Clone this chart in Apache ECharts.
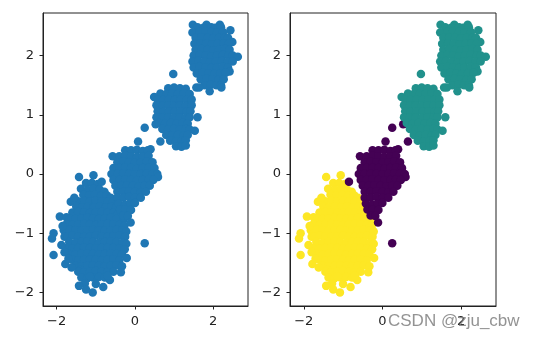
<!DOCTYPE html>
<html>
<head>
<meta charset="utf-8">
<script src="https://cdn.jsdelivr.net/npm/echarts@6/dist/echarts.min.js"></script>
<style>
html,body{margin:0;padding:0;background:#fff;}
#c{width:537px;height:343px;}
</style>
</head>
<body>
<div id="c"></div>
<script>
// Cluster labelled yellow (around -1,-1)
var clusterYellow = [
[-1.43,-0.05],[-1.06,-0.02],
[-1.25,-0.15],[-1.1,-0.15],[-0.95,-0.17],
[-1.38,-0.25],[-1.2,-0.27],[-1.05,-0.25],[-0.9,-0.26],[-0.78,-0.3],
[-1.32,-0.35],[-1.17,-0.36],[-1.02,-0.35],[-0.87,-0.37],[-0.72,-0.36],[-0.62,-0.4],
[-1.64,-0.47],[-1.45,-0.46],[-1.3,-0.45],[-1.15,-0.46],[-1.0,-0.45],[-0.85,-0.46],[-0.7,-0.47],[-0.56,-0.47],
[-1.5,-0.55],[-1.35,-0.56],[-1.2,-0.55],[-1.05,-0.56],[-0.9,-0.55],[-0.75,-0.56],[-0.6,-0.55],[-0.48,-0.57],
[-1.6,-0.65],[-1.45,-0.64],[-1.3,-0.65],[-1.15,-0.66],[-1.0,-0.65],[-0.85,-0.64],[-0.7,-0.65],[-0.55,-0.66],[-0.44,-0.68],
[-1.92,-0.72],[-1.75,-0.73],
[-1.66,-0.75],[-1.52,-0.76],[-1.37,-0.75],[-1.22,-0.74],[-1.07,-0.75],[-0.92,-0.76],[-0.77,-0.75],[-0.62,-0.74],[-0.47,-0.76],[-0.3,-0.78],
[-1.75,-0.85],[-1.6,-0.86],[-1.45,-0.85],[-1.3,-0.84],[-1.15,-0.85],[-1.0,-0.86],[-0.85,-0.85],[-0.7,-0.84],[-0.55,-0.85],[-0.4,-0.86],[-0.27,-0.88],
[-1.82,-0.95],[-1.68,-0.94],[-1.52,-0.95],[-1.37,-0.96],[-1.22,-0.95],[-1.07,-0.94],[-0.92,-0.95],[-0.77,-0.96],[-0.62,-0.95],[-0.47,-0.94],[-0.32,-0.95],[-0.22,-0.97],
[-2.08,-1.0],[-2.12,-1.09],[-1.80,-1.06],
[-1.72,-1.05],[-1.6,-1.04],[-1.45,-1.05],[-1.3,-1.06],[-1.15,-1.05],[-1.0,-1.04],[-0.85,-1.05],[-0.7,-1.06],[-0.55,-1.05],[-0.4,-1.04],[-0.25,-1.06],
[-1.68,-1.15],[-1.52,-1.16],[-1.37,-1.15],[-1.22,-1.14],[-1.07,-1.15],[-0.92,-1.16],[-0.77,-1.15],[-0.62,-1.14],[-0.47,-1.15],[-0.32,-1.16],[-0.22,-1.18],
[-1.75,-1.25],[-1.6,-1.26],[-1.45,-1.25],[-1.3,-1.24],[-1.15,-1.25],[-1.0,-1.26],[-0.85,-1.25],[-0.7,-1.24],[-0.55,-1.25],[-0.4,-1.26],[-0.26,-1.27],
[-2.08,-1.37],
[-1.68,-1.35],[-1.52,-1.36],[-1.37,-1.35],[-1.22,-1.34],[-1.07,-1.35],[-0.92,-1.36],[-0.77,-1.35],[-0.62,-1.34],[-0.47,-1.35],[-0.33,-1.36],
[-0.21,-1.42],
[-1.6,-1.45],[-1.45,-1.46],[-1.3,-1.45],[-1.15,-1.44],[-1.0,-1.45],[-0.85,-1.46],[-0.7,-1.45],[-0.55,-1.44],[-0.4,-1.46],
[-1.78,-1.52],
[-1.52,-1.55],[-1.37,-1.56],[-1.22,-1.55],[-1.07,-1.54],[-0.92,-1.55],[-0.77,-1.56],[-0.62,-1.55],[-0.47,-1.54],[-0.33,-1.56],
[-1.40,-1.62],
[-1.45,-1.65],[-1.3,-1.66],[-1.15,-1.65],[-1.0,-1.64],[-0.85,-1.65],[-0.7,-1.66],[-0.55,-1.65],[-0.36,-1.66],
[-1.37,-1.75],[-1.22,-1.76],[-1.07,-1.75],[-0.92,-1.74],[-0.77,-1.75],[-0.64,-1.79],
[-1.15,-1.73],
[-1.28,-1.85],[-1.0,-1.86],
[-1.43,-1.89],[-0.81,-1.91],[-1.08,-2.0],
[-1.85,-0.88],[-1.88,-1.2],[-1.8,-1.32],[-1.7,-1.43],[-1.62,-1.58],[-1.55,-0.4],[-1.25,-1.95],[-0.7,-1.72]
];
// Cluster labelled purple (around 0,0)
var clusterPurple = [
[0.08,0.55],[0.40,0.42],[0.25,0.78],[0.53,0.84],[0.65,0.55],
[-0.25,0.40],[-0.1,0.40],[0.05,0.41],[0.2,0.39],[0.33,0.40],
[-0.57,0.30],[-0.4,0.30],[-0.25,0.31],[-0.1,0.30],[0.05,0.29],[0.2,0.30],[0.35,0.31],
[-0.45,0.20],[-0.3,0.21],[-0.15,0.20],[0.0,0.19],[0.15,0.20],[0.3,0.21],[0.45,0.20],
[-0.55,0.10],[-0.4,0.10],[-0.25,0.11],[-0.1,0.10],[0.05,0.09],[0.2,0.10],[0.35,0.11],[0.5,0.10],
[-0.6,0.0],[-0.45,0.0],[-0.3,0.01],[-0.15,0.0],[0.0,-0.01],[0.15,0.0],[0.3,0.01],[0.45,0.0],[0.57,0.0],
[0.59,-0.05],
[-0.55,-0.10],[-0.4,-0.10],[-0.25,-0.09],[-0.1,-0.10],[0.05,-0.11],[0.2,-0.10],[0.35,-0.09],[0.47,-0.10],
[-0.85,-0.13],
[-0.5,-0.20],[-0.35,-0.20],[-0.2,-0.19],[-0.05,-0.20],[0.1,-0.21],[0.25,-0.20],[0.38,-0.20],
[-0.45,-0.30],[-0.3,-0.30],[-0.15,-0.29],[0.0,-0.30],[0.15,-0.31],[0.28,-0.30],
[-0.45,-0.40],[-0.3,-0.40],[-0.15,-0.39],[0.0,-0.40],[0.15,-0.40],
[-0.42,-0.50],[-0.25,-0.52],[-0.12,-0.50],[0.0,-0.49],
[-0.38,-0.60],[-0.25,-0.60],[-0.1,-0.61],
[-0.3,-0.70],[-0.18,-0.71],
[-0.11,-0.82],[0.25,-1.17]
];
// Cluster labelled teal (around 1,1 and 2,2)
var clusterTeal = [
[0.98,1.69],[1.57,1.46],
[0.85,1.45],[1.0,1.46],[1.15,1.45],[1.3,1.44],
[0.65,1.36],[0.8,1.35],[0.95,1.36],[1.1,1.35],[1.25,1.36],[1.4,1.35],
[0.49,1.30],
[0.58,1.26],[0.72,1.25],[0.87,1.26],[1.02,1.25],[1.17,1.26],[1.32,1.25],[1.45,1.26],
[0.55,1.16],[0.7,1.15],[0.85,1.16],[1.0,1.15],[1.15,1.16],[1.3,1.15],[1.45,1.16],
[0.58,1.06],[0.72,1.05],[0.87,1.06],[1.02,1.05],[1.17,1.06],[1.32,1.05],[1.42,1.06],
[0.55,0.96],[0.7,0.95],[0.85,0.96],[1.0,0.95],[1.15,0.96],[1.3,0.95],[1.4,0.96],[1.60,0.96],
[0.62,0.86],[0.77,0.85],[0.92,0.86],[1.07,0.85],[1.22,0.86],[1.35,0.85],
[0.7,0.76],[0.85,0.75],[1.0,0.76],[1.15,0.75],[1.3,0.76],[1.4,0.75],[1.53,0.73],
[0.8,0.66],[0.95,0.65],[1.1,0.66],[1.25,0.65],[1.35,0.66],
[0.9,0.56],[1.05,0.55],[1.2,0.56],[1.3,0.57],
[1.05,0.47],[1.19,0.46],[1.3,0.48],
[1.48,2.52],[1.83,2.52],[2.17,2.52],
[1.6,2.48],[1.75,2.47],[1.95,2.48],[2.05,2.47],[2.2,2.48],
[2.44,2.43],[1.47,2.39],
[1.65,2.40],[1.8,2.41],[1.95,2.40],[2.1,2.39],[2.25,2.40],
[1.55,2.30],[1.7,2.31],[1.85,2.30],[2.0,2.29],[2.15,2.30],[2.3,2.31],[2.38,2.30],
[2.49,2.23],
[1.52,2.20],[1.67,2.21],[1.82,2.20],[1.97,2.19],[2.12,2.20],[2.27,2.21],[2.4,2.20],
[1.55,2.10],[1.7,2.11],[1.85,2.10],[2.0,2.09],[2.15,2.10],[2.3,2.11],[2.42,2.10],
[1.5,2.00],[1.65,2.01],[1.8,2.00],[1.95,1.99],[2.1,2.00],[2.25,2.01],[2.4,2.00],[2.5,2.00],
[2.63,1.98],
[1.47,1.90],[1.62,1.91],[1.77,1.90],[1.92,1.89],[2.07,1.90],[2.22,1.91],[2.37,1.90],[2.5,1.90],
[1.5,1.80],[1.65,1.81],[1.8,1.80],[1.95,1.79],[2.1,1.80],[2.25,1.81],[2.38,1.80],
[2.42,1.73],
[1.58,1.70],[1.73,1.71],[1.88,1.70],[2.03,1.69],[2.18,1.70],[2.32,1.71],
[1.68,1.60],[1.83,1.61],[1.98,1.60],[2.13,1.59],[2.27,1.60],
[1.78,1.50],[1.93,1.51],[2.08,1.50],[2.2,1.50],
[1.64,1.46],[1.91,1.40],[2.21,1.46]
];
var xTicks = [-2, 0, 2];
var yTicks = [-2, -1, 0, 1, 2];
var xRange = [-2.35, 2.89];
var yRange = [-2.23, 2.72];

var allPoints = clusterYellow.concat(clusterPurple, clusterTeal);
var chart = echarts.init(document.getElementById('c'), null, {renderer: 'canvas'});
function fmt(v){ return String(v).replace('-', '\u2212'); }
function xAxis(i){
  return {type:'value', gridIndex:i, min:xRange[0], max:xRange[1], position:'bottom',
    splitLine:{show:false}, axisLine:{show:true, onZero:false, lineStyle:{color:'#222', width:1}},
    axisTick:{show:true, inside:false, length:3.5, customValues:xTicks, lineStyle:{color:'#222', width:1}},
    axisLabel:{show:true, customValues:xTicks, formatter:fmt, margin:9, color:'#222', fontSize:13, fontFamily:'DejaVu Sans'}};
}
function yAxis(i){
  return {type:'value', gridIndex:i, min:yRange[0], max:yRange[1], position:'left',
    splitLine:{show:false}, axisLine:{show:true, onZero:false, lineStyle:{color:'#222', width:1}},
    axisTick:{show:true, inside:false, length:3.5, customValues:yTicks, lineStyle:{color:'#222', width:1}},
    axisLabel:{show:true, customValues:yTicks, formatter:fmt, margin:9, color:'#222', fontSize:13, fontFamily:'DejaVu Sans'}};
}
var sym = 8.5;
chart.setOption({
  animation:false,
  backgroundColor:'#fff',
  grid:[
    {left:43, top:13, width:205, height:293, show:true, borderColor:'#222', borderWidth:1, backgroundColor:'transparent'},
    {left:290, top:13, width:206, height:293, show:true, borderColor:'#222', borderWidth:1, backgroundColor:'transparent'}
  ],
  xAxis:[xAxis(0), xAxis(1)],
  yAxis:[yAxis(0), yAxis(1)],
  series:[
    {type:'scatter', xAxisIndex:0, yAxisIndex:0, data:allPoints, symbolSize:sym, itemStyle:{color:'#1f77b4', opacity:1}},
    {type:'scatter', xAxisIndex:1, yAxisIndex:1, data:clusterYellow, symbolSize:sym, itemStyle:{color:'#fde725', opacity:1}},
    {type:'scatter', xAxisIndex:1, yAxisIndex:1, data:clusterPurple, symbolSize:sym, itemStyle:{color:'#440154', opacity:1}},
    {type:'scatter', xAxisIndex:1, yAxisIndex:1, data:clusterTeal, symbolSize:sym, itemStyle:{color:'#21918c', opacity:1}}
  ],
  graphic:[
    {type:'text', left:388, top:313, z:100, silent:true,
     style:{text:'CSDN @zju_cbw', fill:'rgba(128,128,128,0.85)', font:'17px "Liberation Sans", Arial, sans-serif'}}
  ]
});
</script>
</body>
</html>
